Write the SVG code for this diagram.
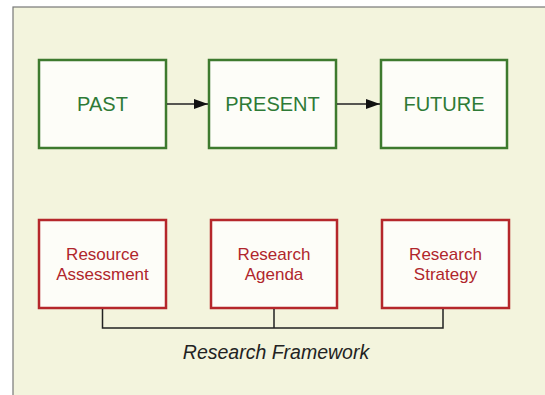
<svg xmlns="http://www.w3.org/2000/svg" width="545" height="395" viewBox="0 0 545 395">
<defs>
<marker id="ah" markerWidth="14" markerHeight="10" refX="14" refY="5" orient="auto" markerUnits="userSpaceOnUse">
<path d="M0,0 L14,5 L0,10 Z" fill="#111"/>
</marker>
<style>
.g rect{fill:#fdfdf8;stroke:#3d7a2e;stroke-width:2.5}
.g text{font-family:"Liberation Sans",Arial,sans-serif;font-size:20px;fill:#2e7a36;text-anchor:middle}
.r rect{fill:#fdfdf8;stroke:#b5272b;stroke-width:2.5}
.r text{font-family:"Liberation Sans",Arial,sans-serif;font-size:17px;fill:#b0262c;text-anchor:middle}
.c{stroke:#222;stroke-width:1.5;fill:none}
</style>
</defs>
<rect x="0" y="0" width="545" height="395" fill="#ffffff"/>
<rect x="13" y="7" width="540" height="400" fill="#f3f4dd" stroke="#777" stroke-width="1.2"/>
<g id="past" class="g"><rect x="39" y="60" width="127" height="88"/><text x="102.5" y="111">PAST</text></g>
<g id="present" class="g"><rect x="209" y="60" width="127" height="88"/><text x="272.5" y="111">PRESENT</text></g>
<g id="future" class="g"><rect x="381" y="60" width="126" height="88"/><text x="444" y="111">FUTURE</text></g>
<g id="resource" class="r"><rect x="39" y="220" width="127" height="88"/><text x="102.5" y="260">Resource</text><text x="102.5" y="280">Assessment</text></g>
<g id="agenda" class="r"><rect x="211" y="220" width="126" height="88"/><text x="274" y="260">Research</text><text x="274" y="280">Agenda</text></g>
<g id="strategy" class="r"><rect x="382" y="220" width="127" height="88"/><text x="445.5" y="260">Research</text><text x="445.5" y="280">Strategy</text></g>
<g id="connectors">
<line class="c" x1="167" y1="104" x2="208" y2="104" marker-end="url(#ah)"/>
<line class="c" x1="337" y1="104" x2="380" y2="104" marker-end="url(#ah)"/>
<path class="c" d="M102.5,309 V328 H443 V309 M274,309 V328"/>
</g>
<text x="276" y="359" font-family="Liberation Sans,Arial,sans-serif" font-size="19.5" font-style="italic" fill="#222" text-anchor="middle">Research Framework</text>
</svg>
